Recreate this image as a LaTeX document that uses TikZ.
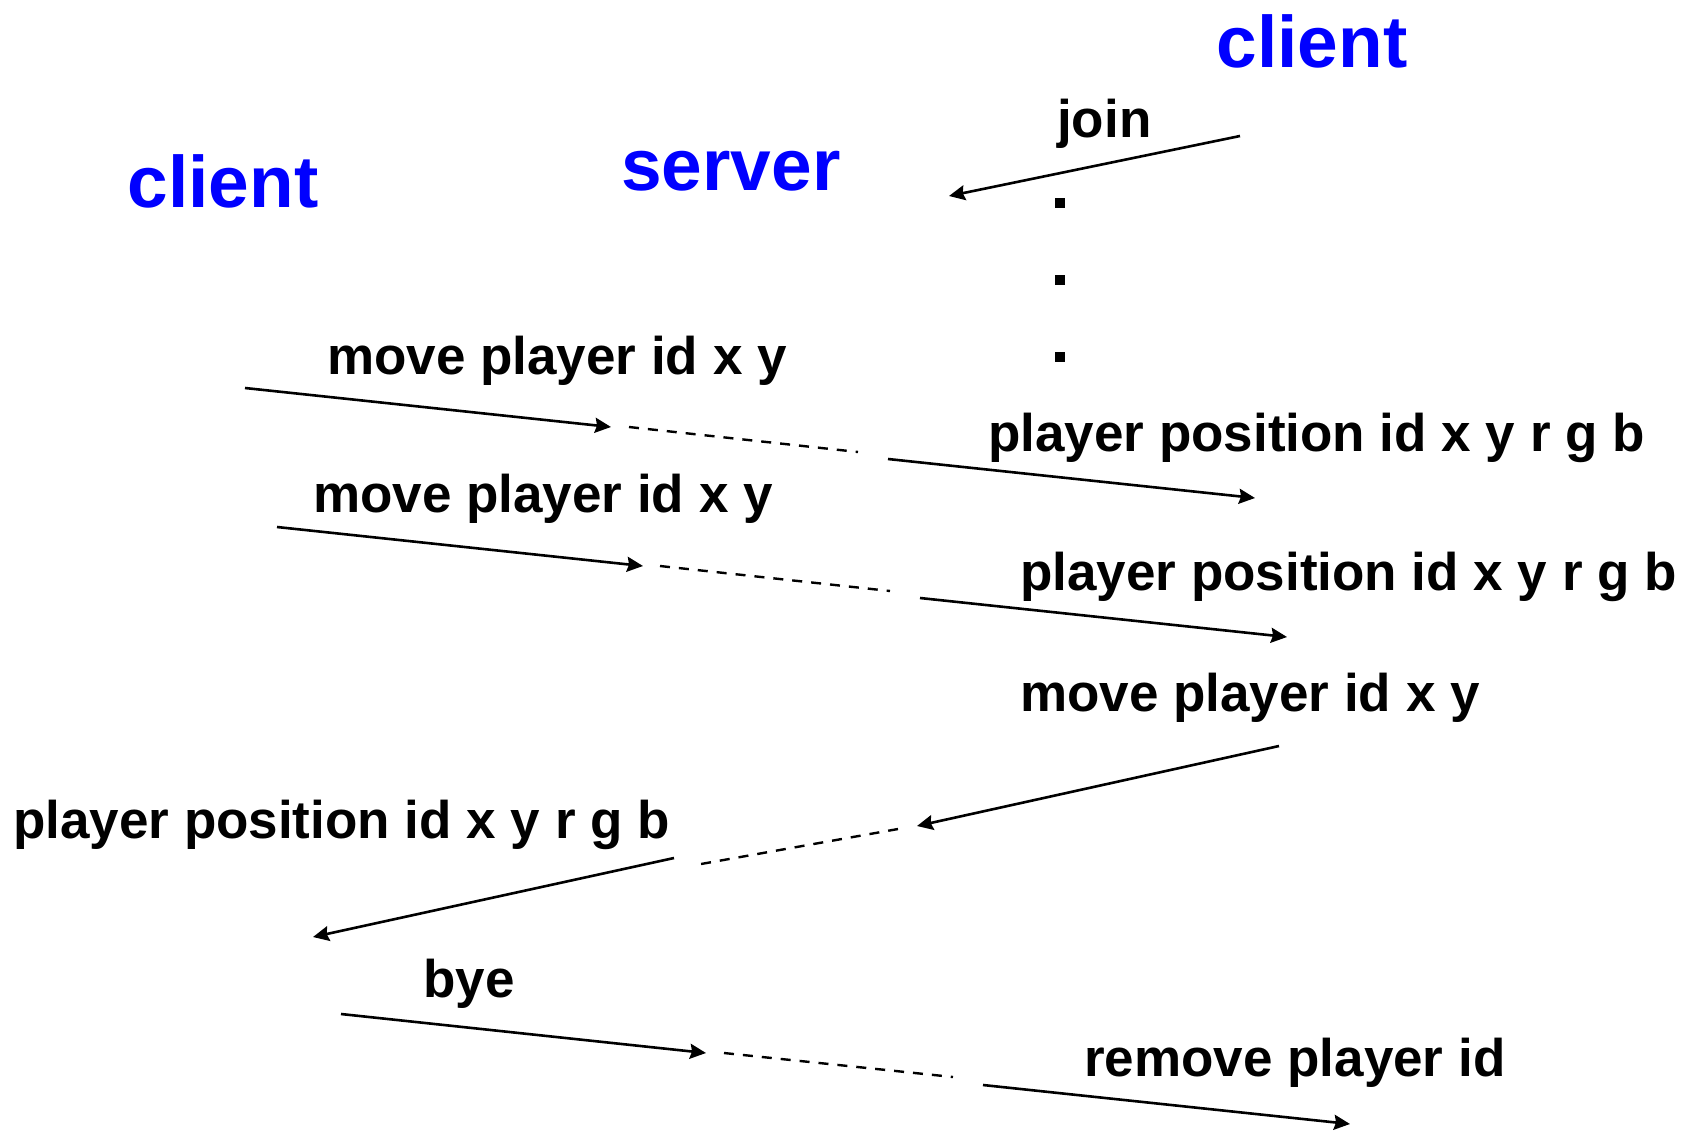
\documentclass[tikz,border=0pt]{standalone}
\usepackage{fontspec}
\setmainfont{Liberation Sans}
\usetikzlibrary{arrows.meta}
\definecolor{titleblue}{RGB}{0,0,255}
\tikzset{
  title/.style={inner sep=0pt, anchor=base, text=titleblue, font=\fontsize{73}{80}\selectfont\bfseries},
  msg/.style={inner sep=0pt, anchor=base west, text=black, font=\fontsize{53}{60}\selectfont\bfseries},
  sendline/.style={line width=2.6pt, -{Stealth[length=16pt,width=15pt,inset=2pt]}},
  relay/.style={line width=2.4pt, dash pattern=on 10pt off 9pt},
  dotbox/.style={fill=black, inner sep=0pt, minimum size=10pt}
}
\begin{document}
\begin{tikzpicture}[x=1pt,y=-1pt]
\useasboundingbox (0,0) rectangle (1691,1130);
% titles
\node[title] (clientR) at (1312,67) {client};
\node[title] (server) at (731,190) {server};
\node[title] (clientL) at (223,207) {client};
% join
\node[msg] (join) at (1057,137) {join};
\coordinate (j1) at (1240,136);
\coordinate (j2) at (949,196);
\draw[sendline] (j1) -- (j2);
\node[dotbox] (d1) at (1060,203) {};
\node[dotbox] (d2) at (1060,280) {};
\node[dotbox] (d3) at (1060,357) {};
% group 1
\node[msg] (m1) at (327,374) {move player id x y};
\coordinate (a1s) at (245,388);
\coordinate (a1e) at (611,427);
\coordinate (b1s) at (629,427);
\coordinate (b1e) at (858,452);
\coordinate (c1s) at (888,459);
\coordinate (c1e) at (1255,498);
\draw[sendline] (a1s) -- (a1e);
\draw[relay] (b1s) -- (b1e);
\draw[sendline] (c1s) -- (c1e);
\node[msg] (p1) at (988,451) {player position id x y r g b};
% group 2
\node[msg] (m2) at (313,512) {move player id x y};
\coordinate (a2s) at (277,527);
\coordinate (a2e) at (643,566);
\coordinate (b2s) at (660,566);
\coordinate (b2e) at (890,591);
\coordinate (c2s) at (920,598);
\coordinate (c2e) at (1287,637);
\draw[sendline] (a2s) -- (a2e);
\draw[relay] (b2s) -- (b2e);
\draw[sendline] (c2s) -- (c2e);
\node[msg] (p2) at (1020,590) {player position id x y r g b};
% group 3
\node[msg] (m3) at (1020,711) {move player id x y};
\coordinate (a3s) at (1279,746);
\coordinate (a3e) at (917,826);
\coordinate (b3s) at (898,829);
\coordinate (b3e) at (701,864);
\coordinate (c3s) at (674,858);
\coordinate (c3e) at (313,937);
\draw[sendline] (a3s) -- (a3e);
\draw[relay] (b3s) -- (b3e);
\draw[sendline] (c3s) -- (c3e);
\node[msg] (p3) at (13,838) {player position id x y r g b};
% group 4
\node[msg] (bye) at (423,997) {bye};
\coordinate (a4s) at (341,1014);
\coordinate (a4e) at (706,1053);
\coordinate (b4s) at (724,1053);
\coordinate (b4e) at (953,1077);
\coordinate (c4s) at (983,1085);
\coordinate (c4e) at (1350,1124);
\draw[sendline] (a4s) -- (a4e);
\draw[relay] (b4s) -- (b4e);
\draw[sendline] (c4s) -- (c4e);
\node[msg] (rem) at (1084,1076) {remove player id};
\end{tikzpicture}
\end{document}
